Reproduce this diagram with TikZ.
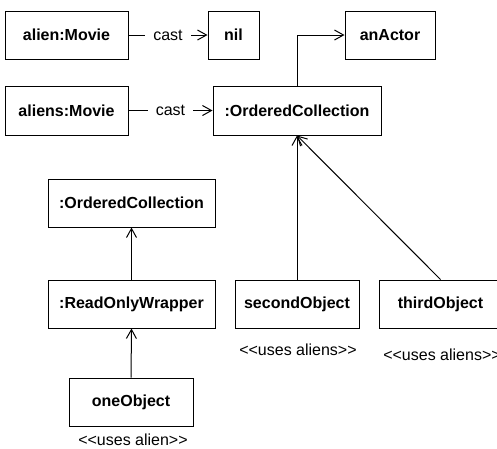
\documentclass[tikz,border=0pt]{standalone}
\usepackage{fontspec}
\setmainfont{Liberation Sans}
\usepackage{xcolor}
\usepackage{tikz}
\usetikzlibrary{calc,arrows.meta}

\begin{document}
\begin{tikzpicture}[x=1pt,y=-1pt]
                \tikzstyle{every node}+=[inner sep=0pt,font=\fontsize{16}{19}\selectfont]
                \tikzstyle{objbox}=[draw=black,line width=1pt,rectangle,font=\fontsize{16}{19}\selectfont\bfseries]
                \tikzstyle{uses}=[font=\fontsize{16}{19}\selectfont]
                \tikzstyle{link}=[black,line width=1pt,-{Straight Barb[length=9pt,width=10pt]}]
                \useasboundingbox (0,0) rectangle (497,448);
                \node [objbox,minimum width=123pt,minimum height=48pt] (alien) at (66.5,35) {alien:Movie};
                \node [objbox,minimum width=51pt,minimum height=48pt] (nil) at (233.5,35) {nil};
                \node [objbox,minimum width=90pt,minimum height=48pt] (anActor) at (390,35) {anActor};
                \node [objbox,minimum width=123pt,minimum height=49pt] (aliens) at (66.5,110.5) {aliens:Movie};
                \node [objbox,minimum width=168pt,minimum height=49pt] (castColl) at (297,110.5) {:OrderedCollection};
                \node [objbox,minimum width=167pt,minimum height=48pt] (innerColl) at (131.5,203) {:OrderedCollection};
                \node [objbox,minimum width=167pt,minimum height=48pt] (wrapper) at (131.5,304) {:ReadOnlyWrapper};
                \node [objbox,minimum width=124pt,minimum height=48pt] (oneObj) at (131,402) {oneObject};
                \node [objbox,minimum width=124pt,minimum height=48pt] (secondObj) at (297,304) {secondObject};
                \node [objbox,minimum width=123pt,minimum height=48pt] (thirdObj) at (440.5,304) {thirdObject};
                \node [uses] (oneUses) at (133,440) {<{}<uses alien>{}>};
                \node [uses] (secondUses) at (298,350) {<{}<uses aliens>{}>};
                \node [uses] (thirdUses) at (442,355) {<{}<uses aliens>{}>};
                \draw [link] (alien.east) -- node [fill=white,inner xsep=8pt,inner ysep=2pt] (castA) {cast} (nil.west);
                \draw [link] (aliens.east) -- node [fill=white,inner xsep=8pt,inner ysep=2pt] (castB) {cast} (castColl.west);
                \draw [link] (castColl.north) |- (anActor.west);
                \draw [link] (wrapper.north) -- (innerColl.south);
                \draw [link] (oneObj.north) -- (wrapper.south);
                \draw [link] (secondObj.north) -- (castColl.south);
                \draw [link] (thirdObj.north) -- (castColl.south);
            \end{tikzpicture}
\end{document}
